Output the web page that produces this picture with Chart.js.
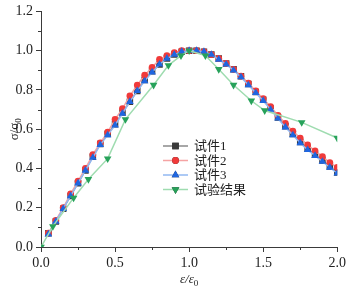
<!DOCTYPE html>
<html lang="zh">

<head>
    <meta charset="UTF-8" />
    <title>σ/σ0 - ε/ε0</title>
    <script src="https://cdn.jsdelivr.net/npm/chart.js"></script>
    <style>
        body { margin: 0; background: #fff; }
        #wrap { width: 349px; height: 291px; position: relative; }
    </style>
</head>

<body>
    <div id="wrap"><canvas id="grafica"></canvas></div>

    <script>
        // ε/ε0 de los puntos de los tres especímenes
        const strainX = [0.05, 0.10, 0.15, 0.20, 0.25, 0.30, 0.35, 0.40, 0.45, 0.50,
            0.55, 0.60, 0.65, 0.70, 0.75, 0.80, 0.85, 0.90, 0.95, 1.00,
            1.05, 1.10, 1.15, 1.20, 1.25, 1.30, 1.35, 1.40, 1.45, 1.50,
            1.55, 1.60, 1.65, 1.70, 1.75, 1.80, 1.85, 1.90, 1.95, 2.00];
        const specimen1 = [0.07, 0.13, 0.195, 0.26, 0.325, 0.39, 0.46, 0.525, 0.575, 0.625,
            0.685, 0.74, 0.795, 0.85, 0.895, 0.93, 0.96, 0.98, 0.995, 1.0,
            1.0, 0.995, 0.98, 0.96, 0.935, 0.905, 0.87, 0.83, 0.79, 0.75,
            0.705, 0.66, 0.615, 0.575, 0.535, 0.5, 0.47, 0.44, 0.41, 0.38];
        const specimen2 = [0.07, 0.135, 0.2, 0.27, 0.335, 0.40, 0.47, 0.53, 0.585, 0.65,
            0.705, 0.77, 0.825, 0.875, 0.915, 0.955, 0.975, 0.99, 1.0, 1.0,
            1.0, 0.995, 0.98, 0.96, 0.935, 0.905, 0.87, 0.835, 0.795, 0.755,
            0.715, 0.67, 0.63, 0.59, 0.555, 0.52, 0.49, 0.46, 0.43, 0.405];
        const specimen3 = [0.065, 0.13, 0.195, 0.26, 0.325, 0.39, 0.455, 0.52, 0.57, 0.62,
            0.68, 0.74, 0.795, 0.845, 0.89, 0.93, 0.96, 0.98, 0.995, 1.0,
            1.0, 0.995, 0.98, 0.955, 0.93, 0.9, 0.865, 0.825, 0.785, 0.745,
            0.7, 0.655, 0.61, 0.57, 0.53, 0.495, 0.465, 0.435, 0.405, 0.375];
        // resultados del ensayo
        const testX = [0, 0.08, 0.22, 0.32, 0.45, 0.57, 0.76, 0.86, 0.945, 1.0,
            1.11, 1.2, 1.3, 1.42, 1.51, 1.76, 2.0];
        const testY = [0, 0.105, 0.25, 0.345, 0.45, 0.65, 0.825, 0.925, 0.975, 1.0,
            0.975, 0.905, 0.825, 0.745, 0.695, 0.635, 0.555];

        const seriesNames = ["试件1", "试件2", "试件3", "试验结果"];
        const xTicks = [0, 0.5, 1.0, 1.5, 2.0];
        const yTicks = [0, 0.2, 0.4, 0.6, 0.8, 1.0, 1.2];

        const serif = "'Liberation Serif', 'Noto Sans CJK SC', serif";
        const axisColor = "#3a3a3a";

        function pares(xs, ys) {
            return xs.map((x, i) => ({ x, y: ys[i] }));
        }

        // ticks menores y títulos de los ejes
        const extrasPlugin = {
            id: "extras",
            afterDraw(chart) {
                const { ctx, scales: { x, y } } = chart;
                const area = chart.chartArea;
                ctx.save();
                ctx.strokeStyle = axisColor;
                ctx.lineWidth = 1;
                ctx.beginPath();
                for (let v = 0.25; v < 2; v += 0.5) {
                    const px = Math.round(x.getPixelForValue(v)) + 0.5;
                    ctx.moveTo(px, area.bottom);
                    ctx.lineTo(px, area.bottom + 3);
                }
                for (let v = 0.1; v < 1.2; v += 0.2) {
                    const py = Math.round(y.getPixelForValue(v)) + 0.5;
                    ctx.moveTo(area.left, py);
                    ctx.lineTo(area.left - 3, py);
                }
                ctx.stroke();

                // título eje y: σ/σ0
                ctx.fillStyle = "#222";
                ctx.translate(14, (area.top + area.bottom) / 2);
                ctx.rotate(-Math.PI / 2);
                ctx.font = "13px " + serif;
                ctx.textBaseline = "alphabetic";
                const main = "σ/σ";
                const w1 = ctx.measureText(main).width;
                ctx.font = "9px " + serif;
                const w2 = ctx.measureText("0").width;
                let sx = -(w1 + w2) / 2;
                ctx.font = "13px " + serif;
                ctx.fillText(main, sx, 4);
                ctx.font = "9px " + serif;
                ctx.fillText("0", sx + w1, 7);
                ctx.setTransform(1, 0, 0, 1, 0, 0);

                // título eje x: ε/ε0
                const cx = (area.left + area.right) / 2;
                ctx.font = "italic 13px " + serif;
                const m = "ε/ε";
                const m1 = ctx.measureText(m).width;
                ctx.font = "9px " + serif;
                const m2 = ctx.measureText("0").width;
                sx = cx - (m1 + m2) / 2;
                ctx.font = "italic 13px " + serif;
                ctx.fillText(m, sx, 283);
                ctx.font = "9px " + serif;
                ctx.fillText("0", sx + m1, 286);

                // leyenda
                const rowY = [146, 160.5, 175, 189.5];
                chart.data.datasets.forEach((ds, i) => {
                    const yy = rowY[i];
                    ctx.strokeStyle = ds.borderColor;
                    ctx.lineWidth = 1.5;
                    ctx.beginPath();
                    ctx.moveTo(163, yy);
                    ctx.lineTo(188, yy);
                    ctx.stroke();
                    Chart.helpers.drawPoint(ctx, {
                        pointStyle: ds.pointStyle,
                        rotation: ds.pointRotation || 0,
                        radius: ds.pointRadius,
                        borderWidth: 0
                    }, 175.5, yy);
                    ctx.fillStyle = ds.pointBackgroundColor;
                    ctx.fill();
                    ctx.fillStyle = "#222";
                    ctx.font = "13px " + serif;
                    ctx.textBaseline = "middle";
                    ctx.fillText(ds.label, 194, yy + 1);
                });
                ctx.restore();
            }
        };

        const ctx = document.getElementById("grafica").getContext("2d");
        new Chart(ctx, {
            type: "line",
            data: {
                datasets: [{
                    label: seriesNames[0],
                    data: pares(strainX, specimen1),
                    borderColor: "#8a8a8a",
                    borderWidth: 1.5,
                    pointStyle: "rect",
                    pointRadius: 4.6,
                    pointBackgroundColor: "#3a3a3a",
                    pointBorderWidth: 0,
                    order: 3
                }, {
                    label: seriesNames[1],
                    data: pares(strainX, specimen2),
                    borderColor: "#f5a3a3",
                    borderWidth: 1.5,
                    pointStyle: "circle",
                    pointRadius: 3.4,
                    pointBackgroundColor: "#f03a3a",
                    pointBorderWidth: 0,
                    order: 2
                }, {
                    label: seriesNames[2],
                    data: pares(strainX, specimen3),
                    borderColor: "#92b8f2",
                    borderWidth: 1.5,
                    pointStyle: "triangle",
                    pointRadius: 4.4,
                    pointBackgroundColor: "#1f66e0",
                    pointBorderWidth: 0,
                    order: 1
                }, {
                    label: seriesNames[3],
                    data: pares(testX, testY),
                    borderColor: "#9fdcb0",
                    borderWidth: 1.5,
                    pointStyle: "triangle",
                    pointRotation: 180,
                    pointRadius: 4.4,
                    pointBackgroundColor: "#27a25a",
                    pointBorderWidth: 0,
                    order: 0
                }]
            },
            options: {
                responsive: true,
                maintainAspectRatio: false,
                animation: false,
                layout: { padding: { top: 7, right: 11, left: 0, bottom: 0 } },
                plugins: { legend: { display: false }, tooltip: { enabled: false } },
                scales: {
                    x: {
                        type: "linear",
                        min: 0,
                        max: 2,
                        afterBuildTicks: s => { s.ticks = xTicks.map(v => ({ value: v })); },
                        afterFit: s => { s.height = 44; },
                        ticks: {
                            callback: v => v.toFixed(1),
                            font: { family: serif, size: 14 },
                            color: "#222",
                            padding: 3,
                            maxRotation: 0
                        },
                        grid: { drawOnChartArea: false, tickLength: 5, color: axisColor },
                        border: { color: axisColor, width: 1 }
                    },
                    y: {
                        min: 0,
                        max: 1.2,
                        afterBuildTicks: s => { s.ticks = yTicks.map(v => ({ value: v })); },
                        afterFit: s => { s.width = 41; },
                        ticks: {
                            callback: v => v.toFixed(1),
                            font: { family: serif, size: 14 },
                            color: "#222",
                            padding: 3
                        },
                        grid: { drawOnChartArea: false, tickLength: 5, color: axisColor },
                        border: { color: axisColor, width: 1 }
                    }
                }
            },
            plugins: [extrasPlugin]
        });
    </script>
</body>

</html>
